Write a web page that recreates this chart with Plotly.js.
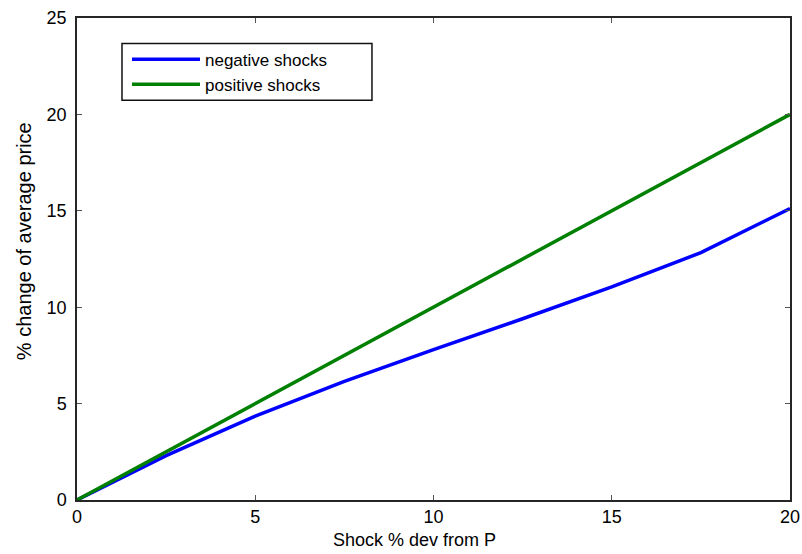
<!DOCTYPE html>
<html><head><meta charset="utf-8">
<script src="https://cdn.plot.ly/plotly-3.0.1.min.js"></script>
<style>html,body{margin:0;padding:0;background:#fff}#chart{width:802px;height:554px}</style>
</head><body><div id="chart"></div>
<script>
var shocks = [0, 2.5, 5, 7.5, 10, 12.5, 15, 17.5, 20];
var negative = [0, 2.3, 4.35, 6.15, 7.8, 9.4, 11.05, 12.83, 15.12];
var positive = [0, 2.5, 5, 7.5, 10, 12.5, 15, 17.5, 20];
var seriesNames = ['negative shocks', 'positive shocks'];
var xTicks = [0, 5, 10, 15, 20];
var yTicks = [0, 5, 10, 15, 20, 25];
var xTitle = 'Shock % dev from P';
var yTitle = '% change of average price';

var FONT = 'Liberation Sans, Arial, sans-serif';
var traces = [
  {x: shocks, y: negative, name: seriesNames[0], mode: 'lines', line: {color: '#0000ff', width: 3.5}},
  {x: shocks, y: positive, name: seriesNames[1], mode: 'lines', line: {color: '#008000', width: 3.5}}
];
var axisCommon = {
  showgrid: false, zeroline: false, showline: true, mirror: 'ticks',
  linecolor: '#262626', linewidth: 1.5, ticks: 'inside', ticklen: 5, tickcolor: '#555',
  tickfont: {family: FONT, size: 18, color: '#000'}
};
var layout = {
  width: 802, height: 554,
  margin: {l: 77, r: 12, t: 17.5, b: 53.5},
  paper_bgcolor: '#fff', plot_bgcolor: '#fff',
  font: {family: FONT, color: '#000'},
  showlegend: true,
  legend: {x: 0.0701, y: 0.951, xanchor: 'left', yanchor: 'top', borderwidth: 0,
           bgcolor: 'rgba(0,0,0,0)', font: {size: 17, family: FONT, color: '#000'},
           itemwidth: 68, tracegroupgap: 0},
  shapes: [
    {type: 'rect', xref: 'paper', yref: 'paper', x0: 0.0631, x1: 0.4137, y0: 0.8292, y1: 0.9472,
     line: {color: '#111', width: 1.5}, fillcolor: 'rgba(0,0,0,0)', layer: 'above'}
  ],
  xaxis: Object.assign({}, axisCommon, {range: [0, 20], tickvals: xTicks, ticktext: xTicks.map(String)}),
  yaxis: Object.assign({}, axisCommon, {range: [0, 25], tickvals: yTicks, ticktext: yTicks.map(String),
          ticklabelstandoff: 5}),
  annotations: [
    {text: xTitle, xref: 'paper', yref: 'paper', x: 0.4727, y: -0.0839, xanchor: 'center', yanchor: 'middle',
     showarrow: false, font: {family: FONT, size: 18, color: '#000'}},
    {text: yTitle, xref: 'paper', yref: 'paper', x: -0.0743, y: 0.537, xanchor: 'center', yanchor: 'middle',
     textangle: -90, showarrow: false, font: {family: FONT, size: 20, color: '#000'}}
  ]
};
Plotly.newPlot('chart', traces, layout, {displayModeBar: false});
</script></body></html>
